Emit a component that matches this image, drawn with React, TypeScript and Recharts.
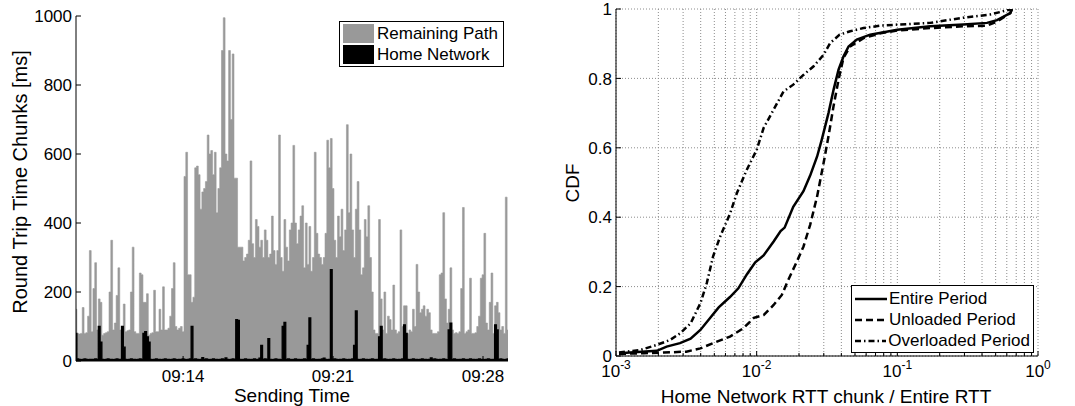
import React from 'react';
import {
  ComposedChart,
  LineChart,
  Line,
  Area,
  XAxis,
  YAxis,
  CartesianGrid,
  Legend,
  Label,
} from 'recharts';

const FONT = '"Liberation Sans", Arial, Helvetica, sans-serif';

// ---------- Left panel: RTT chunks over time (5 s samples from 09:09:00) ----------
const startSec = 540; // 09:09:00 expressed as seconds after 09:00
const stepSec = 5;

const totalRtt = [
  150, 80, 78, 80, 155, 80, 82, 130, 320, 85,
  210, 285, 90, 180, 170, 75, 80, 82, 85, 200,
  350, 90, 110, 190, 270, 90, 95, 165, 85, 88,
  90, 200, 330, 85, 80, 80, 255, 250, 170, 170,
  195, 75, 80, 82, 205, 85, 85, 150, 90, 215,
  90, 90, 95, 130, 210, 285, 100, 90, 95, 100,
  85, 535, 605, 250, 250, 170, 185, 560, 565, 540,
  440, 490, 500, 520, 655, 600, 610, 540, 605, 430,
  500, 560, 900, 995, 600, 580, 900, 700, 890, 530,
  530, 330, 330, 330, 290, 300, 310, 350, 580, 340,
  300, 410, 390, 330, 350, 300, 380, 350, 300, 310,
  420, 320, 280, 320, 655, 300, 260, 410, 330, 290,
  380, 400, 625, 400, 340, 380, 420, 450, 270, 400,
  280, 390, 260, 300, 605, 370, 310, 300, 280, 300,
  370, 640, 560, 645, 500, 350, 300, 420, 360, 440,
  320, 380, 685, 430, 600, 380, 300, 440, 520, 380,
  250, 270, 410, 360, 450, 300, 200, 90, 80, 80,
  410, 180, 90, 200, 80, 130, 120, 90, 220, 90,
  80, 85, 380, 100, 160, 160, 80, 90, 85, 150,
  100, 280, 200, 140, 150, 160, 130, 150, 140, 90,
  80, 80, 80, 85, 250, 255, 430, 180, 110, 150,
  270, 90, 80, 82, 80, 85, 210, 445, 80, 85,
  90, 240, 80, 80, 82, 100, 130, 240, 250, 370,
  110, 90, 170, 255, 80, 160, 170, 140, 90, 100,
  80, 475, 90,
];

const homeRtt = [
  80, 6, 5, 4, 5, 6, 5, 4, 5, 5,
  5, 6, 5, 100, 55, 5, 4, 5, 6, 5,
  5, 4, 5, 6, 5, 5, 100, 40, 5, 4,
  5, 6, 5, 5, 4, 5, 6, 5, 80, 85,
  70, 55, 5, 4, 5, 6, 5, 5, 4, 5,
  6, 5, 5, 4, 5, 6, 5, 4, 5, 5,
  6, 5, 4, 5, 6, 100, 5, 6, 5, 4,
  5, 10, 5, 6, 5, 4, 5, 6, 5, 5,
  4, 5, 6, 5, 9, 5, 4, 5, 6, 5,
  120, 118, 5, 4, 5, 6, 5, 5, 4, 5,
  6, 5, 5, 8, 45, 5, 6, 5, 65, 5,
  4, 5, 6, 5, 5, 4, 100, 112, 5, 6,
  5, 4, 5, 6, 5, 5, 4, 5, 6, 5,
  45, 125, 5, 6, 5, 4, 5, 5, 6, 8,
  5, 4, 5, 265, 5, 6, 5, 4, 5, 5,
  6, 5, 4, 5, 5, 6, 45, 145, 5, 4,
  5, 6, 5, 5, 4, 5, 6, 5, 4, 5,
  70, 100, 5, 6, 5, 4, 5, 5, 6, 5,
  4, 5, 5, 6, 105, 80, 5, 4, 5, 6,
  5, 5, 4, 5, 6, 5, 5, 4, 5, 9,
  5, 6, 5, 4, 5, 5, 6, 5, 4, 90,
  110, 5, 6, 5, 4, 5, 5, 6, 5, 4,
  5, 6, 5, 5, 4, 5, 6, 5, 5, 4,
  5, 6, 5, 4, 5, 105, 90, 5, 6, 5,
  4, 5, 6,
];

const timeTicks = [840, 1260, 1680];
const timeTickLabels = ['09:14', '09:21', '09:28'];
const rttTicks = [0, 200, 400, 600, 800, 1000];

const rttRows = totalRtt.map((v, i) => ({
  t: startSec + i * stepSec,
  total: v,
  home: homeRtt[i],
}));

// ---------- Right panel: CDFs of home-network share ----------
const entireX = [0.00105, 0.00126, 0.00195, 0.00229, 0.00285, 0.00339, 0.00398, 0.00468, 0.00537, 0.00646, 0.00741, 0.00851, 0.00977, 0.0112, 0.0132, 0.0148, 0.0158, 0.0182, 0.0215, 0.024, 0.0269, 0.029, 0.0324, 0.0352, 0.0382, 0.0414, 0.045, 0.0515, 0.0641, 0.1, 0.171, 0.295, 0.434, 0.511, 0.635, 0.653];
const entireY = [0.008, 0.01, 0.015, 0.027, 0.037, 0.05, 0.075, 0.11, 0.14, 0.17, 0.195, 0.235, 0.27, 0.29, 0.33, 0.36, 0.37, 0.43, 0.475, 0.52, 0.575, 0.623, 0.7, 0.767, 0.825, 0.863, 0.892, 0.912, 0.926, 0.94, 0.95, 0.955, 0.96, 0.968, 0.988, 1.0];

const unloadedX = [0.00105, 0.00158, 0.00219, 0.00316, 0.00398, 0.0049, 0.00646, 0.00805, 0.00955, 0.0112, 0.0132, 0.0151, 0.0168, 0.0193, 0.0215, 0.024, 0.0269, 0.0299, 0.0324, 0.0352, 0.0382, 0.0414, 0.0462, 0.0575, 0.0759, 0.1, 0.171, 0.295, 0.434, 0.511, 0.635, 0.653];
const unloadedY = [0.006, 0.008, 0.01, 0.0125, 0.022, 0.037, 0.056, 0.08, 0.11, 0.118, 0.147, 0.176, 0.22, 0.272, 0.315, 0.378, 0.46, 0.556, 0.633, 0.72, 0.796, 0.859, 0.892, 0.916, 0.93, 0.938, 0.945, 0.95, 0.952, 0.964, 0.988, 1.0];

const overloadedX = [0.00105, 0.00148, 0.00195, 0.00242, 0.00285, 0.00339, 0.00398, 0.00442, 0.0049, 0.0055, 0.00646, 0.00724, 0.00851, 0.01, 0.0112, 0.0132, 0.0155, 0.0182, 0.0215, 0.0254, 0.0299, 0.0333, 0.0389, 0.0462, 0.0575, 0.0759, 0.1, 0.171, 0.295, 0.457, 0.653];
const overloadedY = [0.01, 0.017, 0.032, 0.046, 0.065, 0.094, 0.152, 0.21, 0.287, 0.344, 0.41, 0.47, 0.537, 0.594, 0.657, 0.71, 0.762, 0.782, 0.81, 0.835, 0.868, 0.902, 0.926, 0.936, 0.945, 0.952, 0.955, 0.96, 0.975, 0.984, 1.0];

const logTicks = [
  0.001, 0.002, 0.003, 0.004, 0.005, 0.006, 0.007, 0.008, 0.009,
  0.01, 0.02, 0.03, 0.04, 0.05, 0.06, 0.07, 0.08, 0.09,
  0.1, 0.2, 0.3, 0.4, 0.5, 0.6, 0.7, 0.8, 0.9, 1,
];
const cdfTicks = [0, 0.2, 0.4, 0.6, 0.8, 1];
const cdfTickLabels = ['0', '0.2', '0.4', '0.6', '0.8', '1'];

const toPoints = (xs: number[], ys: number[]) => xs.map((x, i) => ({ x, y: ys[i] }));
const entireRows = toPoints(entireX, entireY);
const unloadedRows = toPoints(unloadedX, unloadedY);
const overloadedRows = toPoints(overloadedX, overloadedY);

// ---------- tick renderers (MATLAB-style inward ticks) ----------
const TICK_FS = 17;

const LeftYTick = (props: any) => {
  const { x, y, payload } = props;
  return (
    <g>
      <line x1={x} x2={x + 5} y1={y} y2={y} stroke="#000" strokeWidth={1} />
      <text x={x - 4} y={y} dy="0.36em" textAnchor="end" fontSize={TICK_FS} fill="#000" fontFamily={FONT}>
        {payload.value}
      </text>
    </g>
  );
};

const TimeTick = (props: any) => {
  const { x, y, payload } = props;
  const idx = timeTicks.indexOf(payload.value);
  return (
    <g>
      <line x1={x} x2={x} y1={y} y2={y - 5} stroke="#000" strokeWidth={1} />
      <text x={x} y={y + 15} dy="0.36em" textAnchor="middle" fontSize={TICK_FS} fill="#000" fontFamily={FONT}>
        {idx >= 0 ? timeTickLabels[idx] : ''}
      </text>
    </g>
  );
};

const CdfYTick = (props: any) => {
  const { x, y, payload } = props;
  const idx = cdfTicks.indexOf(payload.value);
  return (
    <g>
      <line x1={x} x2={x + 5} y1={y} y2={y} stroke="#000" strokeWidth={1} />
      <text x={x - 4} y={y} dy="0.36em" textAnchor="end" fontSize={TICK_FS} fill="#000" fontFamily={FONT}>
        {idx >= 0 ? cdfTickLabels[idx] : ''}
      </text>
    </g>
  );
};

const LogXTick = (props: any) => {
  const { x, y, payload } = props;
  const lv = Math.log10(payload.value);
  const exp = Math.round(lv);
  const major = Math.abs(lv - exp) < 1e-6;
  return (
    <g>
      <line x1={x} x2={x} y1={y} y2={y - (major ? 5 : 3)} stroke="#000" strokeWidth={1} />
      {major && (
        <text x={x} y={y + 21} textAnchor="middle" fontSize={TICK_FS} fill="#000" fontFamily={FONT}>
          10
          <tspan dy={-8} fontSize={12}>{String(exp)}</tspan>
        </text>
      )}
    </g>
  );
};

// ---------- legends ----------
const legendText: React.CSSProperties = { fontSize: 17, lineHeight: '21px', color: '#000', fontFamily: FONT, whiteSpace: 'nowrap' };

const LeftLegend = () => (
  <div style={{ border: '1px solid #000', background: '#fff', padding: '1px 3px 2px 3px', boxSizing: 'border-box', width: 165, height: 46 }}>
    {[
      { name: 'Remaining Path', color: '#999999' },
      { name: 'Home Network', color: '#000000' },
    ].map((it) => (
      <div key={it.name} style={{ display: 'flex', alignItems: 'center', height: 21 }}>
        <div style={{ width: 31, height: 19, background: it.color, marginRight: 3 }} />
        <span style={legendText}>{it.name}</span>
      </div>
    ))}
  </div>
);

const RightLegend = () => (
  <div style={{ border: '1px solid #000', background: '#fff', padding: '2px 3px', boxSizing: 'border-box', width: 183, height: 68 }}>
    {[
      { name: 'Entire Period', dash: undefined as string | undefined },
      { name: 'Unloaded Period', dash: '7 4' },
      { name: 'Overloaded Period', dash: '6 3 1.5 3' },
    ].map((it) => (
      <div key={it.name} style={{ display: 'flex', alignItems: 'center', height: 21 }}>
        <svg width={32} height={10} style={{ marginRight: 2 }}>
          <line x1={0} x2={32} y1={5} y2={5} stroke="#000" strokeWidth={2.5} strokeDasharray={it.dash} />
        </svg>
        <span style={legendText}>{it.name}</span>
      </div>
    ))}
  </div>
);

export default function App() {
  return (
    <div style={{ position: 'absolute', left: 0, top: 0, width: 1075, height: 406, background: '#fff', fontFamily: FONT, overflow: 'hidden' }}>
      {/* Left panel */}
      <div style={{ position: 'absolute', left: 0, top: 0 }}>
        <ComposedChart width={530} height={406} data={rttRows} margin={{ top: 16, right: 22, bottom: 0, left: 16 }}>
          <XAxis
            dataKey="t"
            type="number"
            domain={[540, 1750]}
            ticks={timeTicks}
            allowDataOverflow
            height={45}
            tickSize={0}
            tickMargin={0}
            tickLine={false}
            tick={<TimeTick />}
            axisLine={{ stroke: '#000', strokeWidth: 1 }}
            interval={0}
          >
            <Label
              content={() => (
                <text x={292} y={395} dy="0.36em" textAnchor="middle" fontSize={19} fill="#000" fontFamily={FONT}>
                  Sending Time
                </text>
              )}
            />
          </XAxis>
          <YAxis
            type="number"
            domain={[0, 1000]}
            ticks={rttTicks}
            allowDataOverflow
            width={60}
            tickSize={0}
            tickMargin={0}
            tickLine={false}
            tick={<LeftYTick />}
            axisLine={{ stroke: '#000', strokeWidth: 1 }}
            interval={0}
          >
            <Label
              content={() => (
                <text x={20} y={182} dy="0.36em" textAnchor="middle" fontSize={20} fill="#000" fontFamily={FONT} transform="rotate(-90 20 182)">
                  Round Trip Time Chunks [ms]
                </text>
              )}
            />
          </YAxis>
          <Area
            dataKey="total"
            type="step"
            fill="#999999"
            fillOpacity={1}
            stroke="#9a9a9a"
            strokeWidth={0.6}
            isAnimationActive={false}
            dot={false}
            activeDot={false}
          />
          <Area
            dataKey="home"
            type="step"
            fill="#000000"
            fillOpacity={1}
            stroke="#000000"
            strokeWidth={1.3}
            isAnimationActive={false}
            dot={false}
            activeDot={false}
          />
          <Legend
            layout="vertical"
            align="center"
            verticalAlign="middle"
            content={() => <LeftLegend />}
            wrapperStyle={{ left: 339, top: 21, width: 165, height: 46 }}
          />
        </ComposedChart>
      </div>

      {/* Right panel */}
      <div style={{ position: 'absolute', left: 530, top: 0 }}>
        <LineChart width={545} height={406} margin={{ top: 9, right: 37, bottom: 0, left: 26 }}>
          <CartesianGrid stroke="#8c8c8c" strokeDasharray="1 2" strokeWidth={1} />
          <XAxis
            dataKey="x"
            type="number"
            scale="log"
            domain={[0.001, 1]}
            ticks={logTicks}
            allowDataOverflow
            height={50}
            tickSize={0}
            tickMargin={0}
            tickLine={false}
            tick={<LogXTick />}
            axisLine={{ stroke: '#000', strokeWidth: 1 }}
            interval={0}
          >
            <Label
              content={() => (
                <text x={296} y={396} dy="0.36em" textAnchor="middle" fontSize={19} fill="#000" fontFamily={FONT}>
                  Home Network RTT chunk / Entire RTT
                </text>
              )}
            />
          </XAxis>
          <YAxis
            type="number"
            domain={[0, 1]}
            ticks={cdfTicks}
            allowDataOverflow
            width={60}
            tickSize={0}
            tickMargin={0}
            tickLine={false}
            tick={<CdfYTick />}
            axisLine={{ stroke: '#000', strokeWidth: 1 }}
            interval={0}
          >
            <Label
              content={() => (
                <text x={42} y={183} dy="0.36em" textAnchor="middle" fontSize={19} fill="#000" fontFamily={FONT} transform="rotate(-90 42 183)">
                  CDF
                </text>
              )}
            />
          </YAxis>
          <Line data={entireRows} dataKey="y" type="linear" stroke="#000" strokeWidth={2.5} dot={false} activeDot={false} isAnimationActive={false} />
          <Line data={unloadedRows} dataKey="y" type="linear" stroke="#000" strokeWidth={2.5} strokeDasharray="7 4" dot={false} activeDot={false} isAnimationActive={false} />
          <Line data={overloadedRows} dataKey="y" type="linear" stroke="#000" strokeWidth={2.5} strokeDasharray="6 3 1.5 3" dot={false} activeDot={false} isAnimationActive={false} />
          <Legend
            layout="vertical"
            align="center"
            verticalAlign="middle"
            content={() => <RightLegend />}
            wrapperStyle={{ left: 321, top: 285, width: 183, height: 68 }}
          />
        </LineChart>
      </div>
    </div>
  );
}
